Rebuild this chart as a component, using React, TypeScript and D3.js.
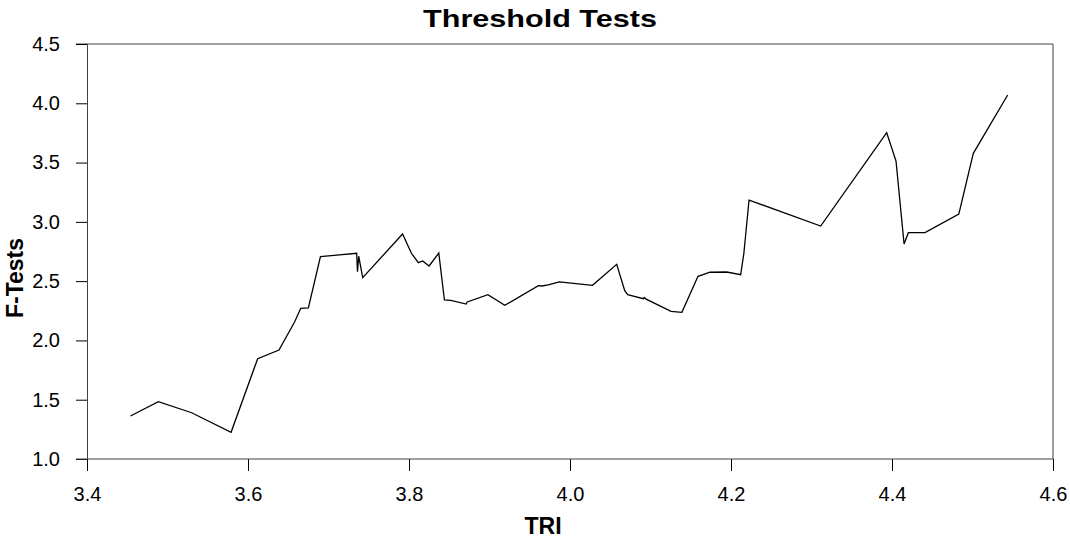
import React, { useRef, useEffect } from "react";
import * as d3 from "d3";

const triValues = [
  3.454, 3.4886, 3.53, 3.579, 3.612, 3.6385, 3.658, 3.6655, 3.675, 3.69,
  3.735, 3.736, 3.7375, 3.7425, 3.792, 3.803, 3.8116, 3.817, 3.825, 3.837,
  3.844, 3.852, 3.871, 3.8724, 3.898, 3.919, 3.9607, 3.965, 3.973, 3.9867,
  4.028, 4.058, 4.068, 4.0717, 4.091, 4.0922, 4.094, 4.1255, 4.139, 4.159,
  4.174, 4.1946, 4.212, 4.216, 4.2224, 4.3114, 4.3934, 4.405, 4.415, 4.4203,
  4.441, 4.483, 4.501, 4.5437,
];
const fTests = [
  1.363, 1.483, 1.39, 1.225, 1.846, 1.919, 2.158, 2.271, 2.274, 2.706,
  2.735, 2.58, 2.71, 2.529, 2.898, 2.735, 2.656, 2.67, 2.628, 2.737,
  2.341, 2.338, 2.307, 2.324, 2.386, 2.296, 2.462, 2.459, 2.468, 2.493,
  2.465, 2.642, 2.42, 2.386, 2.352, 2.362, 2.35, 2.245, 2.237, 2.541,
  2.575, 2.577, 2.554, 2.735, 3.184, 2.965, 3.752, 3.513, 2.813, 2.909,
  2.909, 3.066, 3.578, 4.07,
];
const xTicks = [3.4, 3.6, 3.8, 4.0, 4.2, 4.4, 4.6];
const yTicks = [1.0, 1.5, 2.0, 2.5, 3.0, 3.5, 4.0, 4.5];

export default function App() {
  const ref = useRef<SVGSVGElement>(null);

  useEffect(() => {
    const width = 1070;
    const height = 540;
    const left = 87, right = 1053, top = 44, bottom = 459;

    const svg = d3.select(ref.current);
    svg.selectAll("*").remove();
    svg.attr("width", width).attr("height", height);

    const x = d3.scaleLinear().domain([3.4, 4.6]).range([left, right]);
    const y = d3.scaleLinear().domain([1.0, 4.5]).range([bottom, top]);

    const axisColor = "#404040";
    const font = "'Liberation Sans', Arial, sans-serif";

    // frame
    svg.append("line").attr("x1", 76).attr("x2", right).attr("y1", top).attr("y2", top)
      .attr("stroke", axisColor).attr("stroke-width", 1);
    svg.append("line").attr("x1", right).attr("x2", right).attr("y1", top).attr("y2", bottom)
      .attr("stroke", axisColor).attr("stroke-width", 1);

    // y axis
    const yAxis = svg.append("g").attr("transform", `translate(${left},0)`)
      .call(d3.axisLeft(y).tickValues(yTicks).tickFormat(d3.format(".1f")).tickSize(11).tickPadding(16));
    yAxis.select(".domain").attr("stroke", axisColor);
    yAxis.selectAll(".tick line").attr("stroke", "#000");
    yAxis.selectAll("text").style("font-family", font).style("font-size", "20px").attr("fill", "#000");

    // x axis
    const xAxis = svg.append("g").attr("transform", `translate(0,${bottom})`)
      .call(d3.axisBottom(x).tickValues(xTicks).tickFormat(d3.format(".1f")).tickSize(12).tickPadding(16));
    xAxis.select(".domain").remove();
    xAxis.selectAll(".tick line").attr("stroke", "#000");
    xAxis.selectAll("text").style("font-family", font).style("font-size", "20px").attr("fill", "#000");
    svg.append("line").attr("x1", 76).attr("x2", right).attr("y1", bottom).attr("y2", bottom)
      .attr("stroke", axisColor).attr("stroke-width", 1);

    // data line
    const pts = triValues.map((t, i) => [t, fTests[i]] as [number, number]);
    const line = d3.line<[number, number]>().x((d) => x(d[0])).y((d) => y(d[1]));
    svg.append("path").datum(pts).attr("d", line)
      .attr("fill", "none").attr("stroke", "#000").attr("stroke-width", 1.3);

    // titles
    svg.append("text").attr("transform", "translate(540,27) scale(1.33,1)")
      .attr("text-anchor", "middle").style("font-family", font)
      .style("font-size", "23px").style("font-weight", "bold").text("Threshold Tests");
    svg.append("text").attr("x", 543).attr("y", 534)
      .attr("text-anchor", "middle").style("font-family", font)
      .style("font-size", "23px").style("font-weight", "bold").text("TRI");
    svg.append("text").attr("transform", "translate(23,278) rotate(-90)")
      .attr("text-anchor", "middle").style("font-family", font)
      .style("font-size", "23px").style("font-weight", "bold").text("F-Tests");
  }, []);

  return <svg ref={ref} style={{ position: "absolute", left: 0, top: 0 }}></svg>;
}
